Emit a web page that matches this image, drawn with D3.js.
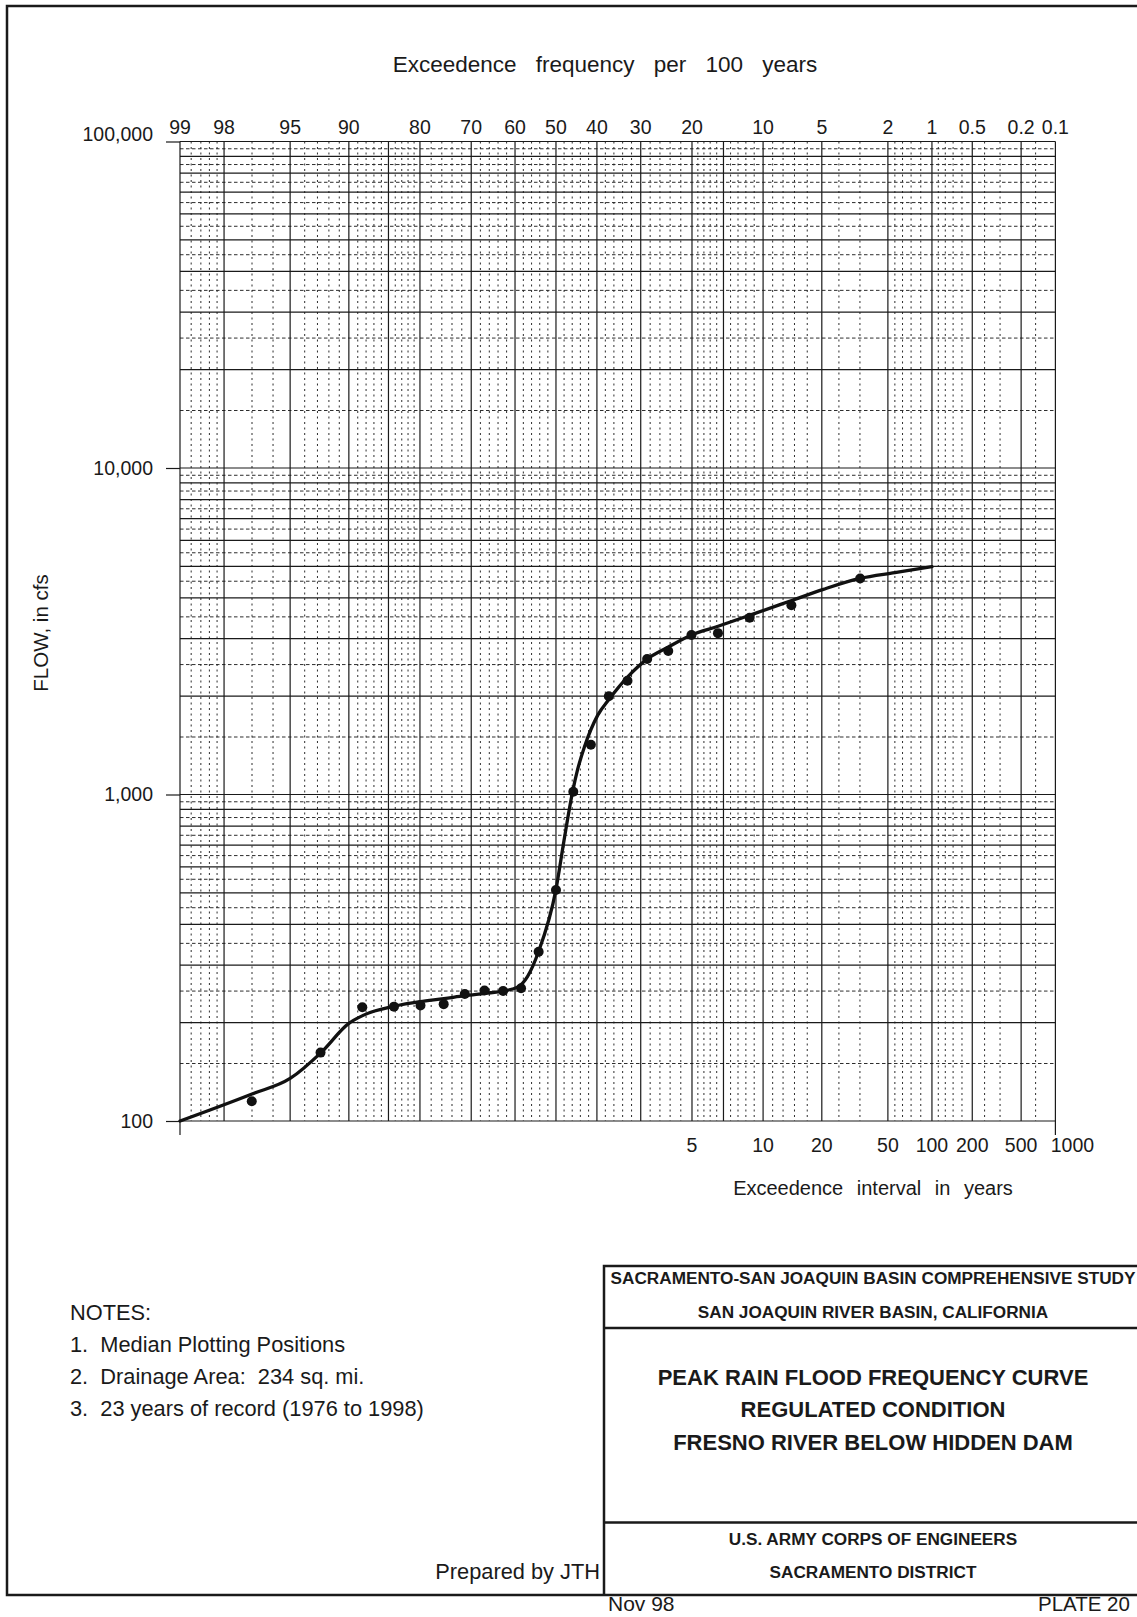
<!DOCTYPE html>
<html>
<head>
<meta charset="utf-8">
<script src="https://cdn.jsdelivr.net/npm/d3@7"></script>
<style>
  html, body { margin: 0; padding: 0; background: #fff; }
  svg { display: block; font-family: "Liberation Sans", Arial, Helvetica, sans-serif; }
  text { white-space: pre; }
</style>
</head>
<body>
<svg id="chart" width="1137" height="1617"></svg>
<script>
// Ranked annual peaks, 1976-1998, at median plotting positions (exceedance, percent)
const exceedancePct = [2.99, 7.26, 11.54, 15.81, 20.09, 24.36, 28.63, 32.91, 37.18, 41.45, 45.73, 50.00,
                       54.27, 58.55, 62.82, 67.09, 71.37, 75.64, 79.91, 84.19, 88.46, 92.74, 97.01];
const peakFlowCfs   = [4590, 3800, 3480, 3120, 3080, 2750, 2600, 2230, 2000, 1420, 1020, 510,
                       330, 255, 250, 251, 245, 228, 226, 224, 223, 162, 115];

// Adopted frequency curve
const curvePct     = [99, 97, 95, 92.7, 90, 88.3, 84, 80, 75.6, 71.4, 67, 62.8, 59.4, 57, 54.3, 50, 48,
                      45.9, 44.7, 43, 39.8, 37.1, 32.9, 28.7, 24.5, 20.1, 15.9, 11.4, 7.3, 4.9, 3, 1.8, 1];
const curveFlowCfs = [100, 121, 135, 162, 199, 211, 225, 232, 237, 242, 246, 250, 257, 277, 330, 512, 725,
                      1020, 1189, 1400, 1750, 1960, 2290, 2594, 2820, 3080, 3270, 3548, 3920, 4250, 4590, 4780, 4985];

// Probability-paper rulings (exceedance, percent)
const majorPct = [99, 98, 95, 90, 85, 80, 70, 60, 50, 40, 30, 20, 15, 10, 5, 2, 1, 0.5, 0.2, 0.1];
const minorPct = [98.8, 98.6, 98.4, 98.2, 97, 96, 94, 93, 92, 91, 89, 88, 87, 86, 84, 83, 82, 81,
                  78, 76, 74, 72, 68, 66, 64, 62, 58, 56, 54, 52, 48, 46, 44, 42, 38, 36, 34, 32,
                  28, 26, 24, 22, 19, 18, 17, 16, 14, 13, 12, 11, 9, 8, 7, 6, 4, 3,
                  1.8, 1.6, 1.4, 1.2, 0.9, 0.8, 0.7, 0.6, 0.4, 0.3, 0.15];
const topTickPct    = [99, 98, 95, 90, 80, 70, 60, 50, 40, 30, 20, 10, 5, 2, 1, 0.5, 0.2, 0.1];
const topTickLabels = ["99", "98", "95", "90", "80", "70", "60", "50", "40", "30", "20", "10", "5", "2", "1", "0.5", "0.2", "0.1"];
const intervalYears  = [5, 10, 20, 50, 100, 200, 500, 1000];
const intervalLabels = ["5", "10", "20", "50", "100", "200", "500", "1000"];
const flowTicks      = [100, 1000, 10000, 100000];
const flowTickLabels = ["100", "1,000", "10,000", "100,000"];

const notes = ["NOTES:", "1.  Median Plotting Positions", "2.  Drainage Area:  234 sq. mi.",
               "3.  23 years of record (1976 to 1998)"];
const studyLines  = ["SACRAMENTO-SAN JOAQUIN BASIN COMPREHENSIVE STUDY", "SAN JOAQUIN RIVER BASIN, CALIFORNIA"];
const titleLines  = ["PEAK RAIN FLOOD FREQUENCY CURVE", "REGULATED CONDITION", "FRESNO RIVER BELOW HIDDEN DAM"];
const agencyLines = ["U.S. ARMY CORPS OF ENGINEERS", "SACRAMENTO DISTRICT"];

// Standard normal quantile (Acklam's rational approximation)
function normInv(p) {
  const a = [-3.969683028665376e+01, 2.209460984245205e+02, -2.759285104469687e+02,
             1.383577518672690e+02, -3.066479806614716e+01, 2.506628277459239e+00];
  const b = [-5.447609879822406e+01, 1.615858368580409e+02, -1.556989798598866e+02,
             6.680131188771972e+01, -1.328068155288572e+01];
  const c = [-7.784894002430293e-03, -3.223964580411365e-01, -2.400758277161838e+00,
             -2.549671010243463e+00, 4.374664141464968e+00, 2.938163982698783e+00];
  const d = [7.784695709041462e-03, 3.224671290700398e-01, 2.445134137142996e+00, 3.754408661907416e+00];
  const pl = 0.02425;
  let q, r;
  if (p < pl) {
    q = Math.sqrt(-2 * Math.log(p));
    return (((((c[0]*q+c[1])*q+c[2])*q+c[3])*q+c[4])*q+c[5]) / ((((d[0]*q+d[1])*q+d[2])*q+d[3])*q+1);
  } else if (p <= 1 - pl) {
    q = p - 0.5; r = q * q;
    return (((((a[0]*r+a[1])*r+a[2])*r+a[3])*r+a[4])*r+a[5])*q / (((((b[0]*r+b[1])*r+b[2])*r+b[3])*r+b[4])*r+1);
  } else {
    q = Math.sqrt(-2 * Math.log(1 - p));
    return -(((((c[0]*q+c[1])*q+c[2])*q+c[3])*q+c[4])*q+c[5]) / ((((d[0]*q+d[1])*q+d[2])*q+d[3])*q+1);
  }
}

const plot = { left: 180, right: 1055.4, top: 141.5, bottom: 1121 };

// Normal-probability x scale: position follows the standard normal deviate of non-exceedance
const zScale = d3.scaleLinear()
  .domain([normInv(0.01), normInv(0.999)])
  .range([plot.left, plot.right]);
const x = pct => zScale(normInv(1 - pct / 100));
const y = d3.scaleLog().domain([100, 100000]).range([plot.bottom, plot.top]);

const svg = d3.select("#chart");
const ink = "#1a1a1a";

// Sheet border (right side runs off the sheet)
svg.append("path")
  .attr("d", "M1145,6 H7 V1595 H1145")
  .attr("fill", "none").attr("stroke", ink).attr("stroke-width", 2.5);

const grid = svg.append("g");

// Horizontal rulings: solid at 1-9 per decade, dashed at the half steps
const solidFlows = y.ticks();
const halfFlows = [];
[100, 1000, 10000].forEach(dec => d3.range(1, 10).forEach(k => halfFlows.push((k + 0.5) * dec)));

grid.selectAll("line.hdash").data(halfFlows).join("line")
  .attr("x1", plot.left).attr("x2", plot.right)
  .attr("y1", d => y(d)).attr("y2", d => y(d))
  .attr("stroke", "#222").attr("stroke-width", 0.95).attr("stroke-dasharray", "3.5,2.5");

// Vertical minor rulings
grid.selectAll("line.vminor").data(minorPct).join("line")
  .attr("x1", d => x(d)).attr("x2", d => x(d))
  .attr("y1", plot.top).attr("y2", plot.bottom)
  .attr("stroke", "#222").attr("stroke-width", 0.95).attr("stroke-dasharray", "2,3.5");

grid.selectAll("line.hsolid").data(solidFlows).join("line")
  .attr("x1", plot.left).attr("x2", plot.right)
  .attr("y1", d => y(d)).attr("y2", d => y(d))
  .attr("stroke", ink).attr("stroke-width", 1.2);

grid.selectAll("line.vmajor").data(majorPct).join("line")
  .attr("x1", d => x(d)).attr("x2", d => x(d))
  .attr("y1", plot.top).attr("y2", plot.bottom)
  .attr("stroke", ink).attr("stroke-width", 1.2);

// Flow axis (left)
const yAxis = d3.axisLeft(y)
  .tickValues(flowTicks)
  .tickFormat((d, i) => flowTickLabels[i])
  .tickSize(14).tickPadding(13);
const gy = svg.append("g").attr("transform", `translate(${plot.left},0)`).call(yAxis);
gy.select(".domain").remove();
gy.selectAll(".tick line").attr("stroke", ink).attr("stroke-width", 1.2);
gy.selectAll(".tick text")
  .attr("fill", ink).attr("font-size", 19.5).attr("font-family", null)
  .attr("dy", d => d === 100000 ? "-0.05em" : "0.32em");

// Extend the two outer verticals below the grid
svg.append("line").attr("x1", plot.left).attr("x2", plot.left)
  .attr("y1", plot.bottom).attr("y2", plot.bottom + 14).attr("stroke", ink).attr("stroke-width", 1.2);
svg.append("line").attr("x1", plot.right).attr("x2", plot.right)
  .attr("y1", plot.bottom).attr("y2", plot.bottom + 14).attr("stroke", ink).attr("stroke-width", 1.2);

// Exceedance frequency labels (top)
svg.append("g").selectAll("text").data(topTickPct).join("text")
  .attr("x", d => x(d)).attr("y", 134)
  .attr("text-anchor", "middle").attr("font-size", 19.5).attr("fill", ink)
  .text((d, i) => topTickLabels[i]);

svg.append("text")
  .attr("x", 605).attr("y", 72).attr("text-anchor", "middle")
  .attr("font-size", 22.5).attr("word-spacing", 13).attr("fill", ink)
  .text("Exceedence frequency per 100 years");

// Exceedance interval labels (bottom)
svg.append("g").selectAll("text").data(intervalYears).join("text")
  .attr("x", d => x(100 / d) + (d === 1000 ? 17 : 0)).attr("y", 1152)
  .attr("text-anchor", "middle").attr("font-size", 19.5).attr("fill", ink)
  .text((d, i) => intervalLabels[i]);

svg.append("text")
  .attr("x", 873).attr("y", 1195).attr("text-anchor", "middle")
  .attr("font-size", 20).attr("word-spacing", 8).attr("fill", ink)
  .text("Exceedence interval in years");

svg.append("text")
  .attr("transform", "translate(48,633) rotate(-90)")
  .attr("text-anchor", "middle").attr("font-size", 20.5).attr("fill", ink)
  .text("FLOW, in cfs");

// Frequency curve
const line = d3.line()
  .x((d, i) => x(curvePct[i]))
  .y(d => y(d))
  .curve(d3.curveMonotoneX);
svg.append("path")
  .datum(curveFlowCfs)
  .attr("d", line)
  .attr("fill", "none").attr("stroke", "#111").attr("stroke-width", 3.3)
  .attr("stroke-linejoin", "round").attr("stroke-linecap", "round");

// Observed peaks
svg.append("g").selectAll("circle").data(peakFlowCfs).join("circle")
  .attr("cx", (d, i) => x(exceedancePct[i]))
  .attr("cy", d => y(d))
  .attr("r", 5).attr("fill", "#111");

// Notes
svg.append("g").selectAll("text").data(notes).join("text")
  .attr("x", 70).attr("y", (d, i) => 1320 + i * 32)
  .attr("font-size", 21.8).attr("fill", ink)
  .text(d => d);

svg.append("text").attr("x", 600).attr("y", 1579).attr("text-anchor", "end")
  .attr("font-size", 21.8).attr("fill", ink).text("Prepared by JTH");

// Title block
const tb = svg.append("g");
tb.append("path")
  .attr("d", "M1145,1266 H604 V1595 M604,1328 H1145 M604,1522.5 H1145")
  .attr("fill", "none").attr("stroke", ink).attr("stroke-width", 2.5);

const cx = 873;
tb.selectAll("text.study").data(studyLines).join("text")
  .attr("x", cx).attr("y", (d, i) => 1284 + i * 34)
  .attr("text-anchor", "middle").attr("font-size", 17.2).attr("font-weight", "bold").attr("fill", ink)
  .text(d => d);
tb.selectAll("text.title").data(titleLines).join("text")
  .attr("x", cx).attr("y", (d, i) => 1384.5 + i * 32.5)
  .attr("text-anchor", "middle").attr("font-size", 22).attr("font-weight", "bold").attr("fill", ink)
  .text(d => d);
tb.selectAll("text.agency").data(agencyLines).join("text")
  .attr("x", cx).attr("y", (d, i) => 1544.5 + i * 33)
  .attr("text-anchor", "middle").attr("font-size", 17.2).attr("font-weight", "bold").attr("fill", ink)
  .text(d => d);

svg.append("text").attr("x", 608).attr("y", 1611).attr("font-size", 21).attr("fill", ink).text("Nov 98");
svg.append("text").attr("x", 1038).attr("y", 1611).attr("font-size", 20.5).attr("fill", ink).text("PLATE 20");
</script>
</body>
</html>
